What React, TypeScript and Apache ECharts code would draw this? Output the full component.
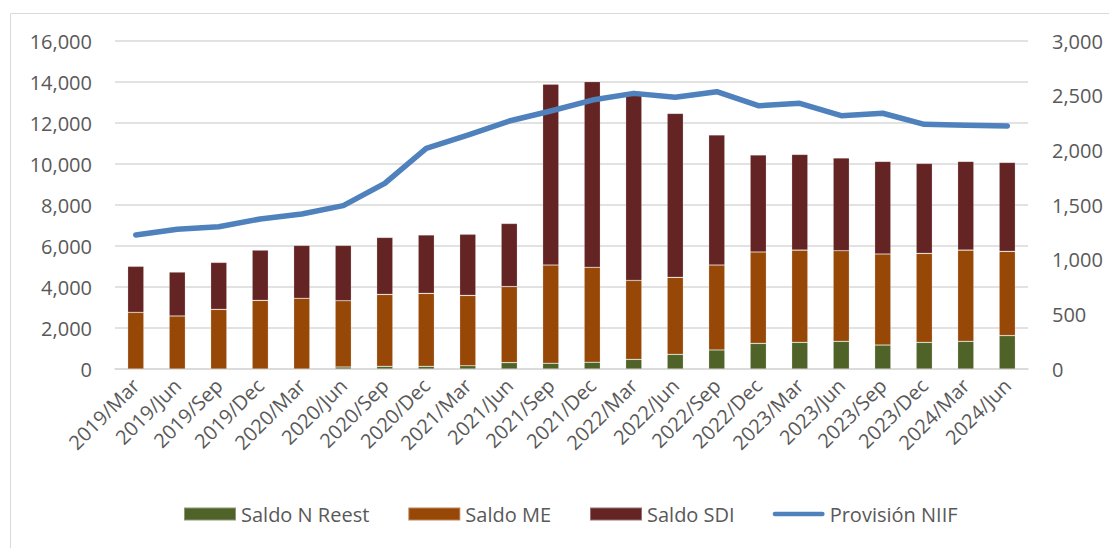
import React, { useEffect, useRef } from "react";
import * as echarts from "echarts";

const categories = [
  "2019/Mar", "2019/Jun", "2019/Sep", "2019/Dec",
  "2020/Mar", "2020/Jun", "2020/Sep", "2020/Dec",
  "2021/Mar", "2021/Jun", "2021/Sep", "2021/Dec",
  "2022/Mar", "2022/Jun", "2022/Sep", "2022/Dec",
  "2023/Mar", "2023/Jun", "2023/Sep", "2023/Dec",
  "2024/Mar", "2024/Jun",
];

const saldoNReest = [0, 0, 0, 0, 0, 100, 130, 130, 160, 310, 280, 330, 470, 715, 930, 1250, 1300, 1350, 1170, 1300, 1350, 1630];
const saldoME = [2765, 2585, 2910, 3350, 3450, 3230, 3510, 3560, 3430, 3710, 4790, 4630, 3850, 3755, 4140, 4460, 4500, 4420, 4440, 4340, 4450, 4110];
const saldoSDI = [2245, 2145, 2290, 2450, 2580, 2700, 2780, 2850, 2980, 3080, 8820, 9060, 9030, 8000, 6350, 4730, 4670, 4520, 4520, 4390, 4330, 4340];
const provisionNIIF = [1226, 1278, 1301, 1372, 1418, 1494, 1698, 2018, 2140, 2268, 2360, 2460, 2521, 2485, 2536, 2408, 2430, 2317, 2339, 2238, 2229, 2222];

const FONT = "'Open Sans', 'Noto Sans', sans-serif";
const TXT = "#595959";

const fmt = (v: number) => v.toLocaleString("en-US");

export default function App() {
  const ref = useRef<HTMLDivElement>(null);
  useEffect(() => {
    document.body.style.margin = "0";
    const chart = echarts.init(ref.current!, null, { renderer: "svg" });
    chart.setOption({
      animation: false,
      backgroundColor: "#ffffff",
      textStyle: { fontFamily: FONT },
      graphic: [
        {
          type: "rect",
          left: 8,
          top: 11,
          shape: { x: 0.5, y: 0.5, width: 1200, height: 600 },
          style: { fill: "none", stroke: "#d9d9d9", lineWidth: 1 },
          silent: true,
          z: -10,
        },
      ],
      grid: { left: 115, right: 81, top: 41, bottom: 179, containLabel: false },
      legend: {
        bottom: 19,
        left: 178,
        itemWidth: 52,
        itemHeight: 13,
        itemGap: 38,
        textStyle: { fontSize: 20, color: TXT, fontFamily: FONT },
        data: [
          { name: "Saldo N Reest", icon: "rect" },
          { name: "Saldo ME", icon: "rect" },
          { name: "Saldo SDI", icon: "rect" },
          { name: "Provisión NIIF", icon: "path://M2.5,0 L54.5,0 A2.5,2.5 0 0 1 54.5,5 L2.5,5 A2.5,2.5 0 0 1 2.5,0 Z" },
        ],
      },
      xAxis: {
        type: "category",
        data: categories,
        axisTick: { show: false },
        axisLine: { lineStyle: { color: "#d9d9d9", width: 1.5 } },
        axisLabel: {
          interval: 0,
          rotate: 45,
          fontSize: 20,
          color: TXT,
          margin: 13,
          fontFamily: FONT,
        },
      },
      yAxis: [
        {
          type: "value",
          min: 0,
          max: 16000,
          interval: 2000,
          axisLine: { show: false },
          axisTick: { show: false },
          splitLine: { lineStyle: { color: "#d9d9d9", width: 1.5 } },
          axisLabel: { fontSize: 20, color: TXT, margin: 23, formatter: fmt, fontFamily: FONT },
        },
        {
          type: "value",
          min: 0,
          max: 3000,
          interval: 500,
          position: "right",
          axisLine: { show: false },
          axisTick: { show: false },
          splitLine: { show: false },
          axisLabel: { fontSize: 20, color: TXT, margin: 24, formatter: fmt, fontFamily: FONT },
        },
      ],
      series: [
        {
          name: "Saldo N Reest",
          type: "bar",
          stack: "s",
          data: saldoNReest,
          barWidth: "39%",
          itemStyle: { color: "#4f6228", borderColor: "rgba(255,255,255,0.35)", borderWidth: 0.6 },
        },
        {
          name: "Saldo ME",
          type: "bar",
          stack: "s",
          data: saldoME,
          barWidth: "39%",
          itemStyle: { color: "#974706", borderColor: "rgba(255,255,255,0.35)", borderWidth: 0.6 },
        },
        {
          name: "Saldo SDI",
          type: "bar",
          stack: "s",
          data: saldoSDI,
          barWidth: "39%",
          itemStyle: { color: "#632423", borderColor: "rgba(255,255,255,0.35)", borderWidth: 0.6 },
        },
        {
          name: "Provisión NIIF",
          type: "line",
          yAxisIndex: 1,
          data: provisionNIIF,
          symbol: "none",
          showSymbol: false,
          z: 5,
          lineStyle: { color: "#4f81bd", width: 5.5, cap: "round", join: "round" },
          itemStyle: { color: "#4f81bd" },
        },
      ],
    });
    return () => chart.dispose();
  }, []);
  return (
    <div
      ref={ref}
      style={{ position: "fixed", left: 0, top: 0, width: 1109, height: 548 }}
    />
  );
}
